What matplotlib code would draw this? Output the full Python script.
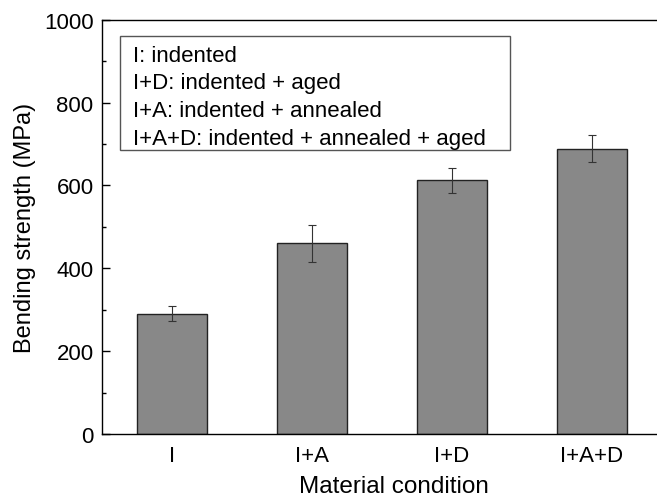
import numpy as np
import matplotlib.pyplot as plt
from matplotlib.patches import Rectangle

# bending strength per material condition
conditions = ['I', 'I+A', 'I+D', 'I+A+D']
strength = [290, 460, 612, 689]
strength_err = [18, 44, 31, 32]

legend_lines = [
    'I: indented',
    'I+D: indented + aged',
    'I+A: indented + annealed',
    'I+A+D: indented + annealed + aged',
]

plt.rcParams['font.family'] = ['Liberation Sans', 'DejaVu Sans']

fig = plt.figure(figsize=(6.57, 5.02), dpi=100)
ax = fig.add_axes([0.155, 0.1335, 0.852, 0.8253])

x = np.arange(1, len(conditions) + 1)
ax.bar(x, strength, width=0.5, color='#888888', edgecolor='#222222', linewidth=1.0, zorder=2)
ax.errorbar(x, strength, yerr=strength_err, fmt='none', ecolor='#333333',
            elinewidth=0.8, capsize=3, capthick=0.8, zorder=3)

ax.set_xlim(0.5, 4.5)
ax.set_ylim(0, 1000)
ax.set_xticks(x)
ax.set_xticklabels(conditions)
ax.set_yticks(np.arange(0, 1001, 200))
ax.set_yticks(np.arange(100, 1000, 200), minor=True)

ax.tick_params(axis='y', which='major', direction='in', length=6, width=1, labelsize=16, pad=6)
ax.tick_params(axis='y', which='minor', direction='in', length=3, width=1)
ax.tick_params(axis='x', which='both', length=0, labelsize=16, pad=8)

for s in ax.spines.values():
    s.set_linewidth(1.0)

ax.set_ylabel('Bending strength (MPa)', fontsize=17, labelpad=6)
ax.set_xlabel('Material condition', fontsize=17.5)
ax.xaxis.set_label_coords(0.521, -0.098)

# key box with the condition abbreviations
ax.add_patch(Rectangle((0.032, 0.685), 0.697, 0.276, transform=ax.transAxes,
                       facecolor='white', edgecolor='#555555', linewidth=1.0, zorder=4))
for i, line in enumerate(legend_lines):
    ax.text(0.0554, 0.901 - i * 0.0669, line, transform=ax.transAxes,
            fontsize=16, va='baseline', ha='left', zorder=5)

fig.savefig('out.png', dpi=100)
